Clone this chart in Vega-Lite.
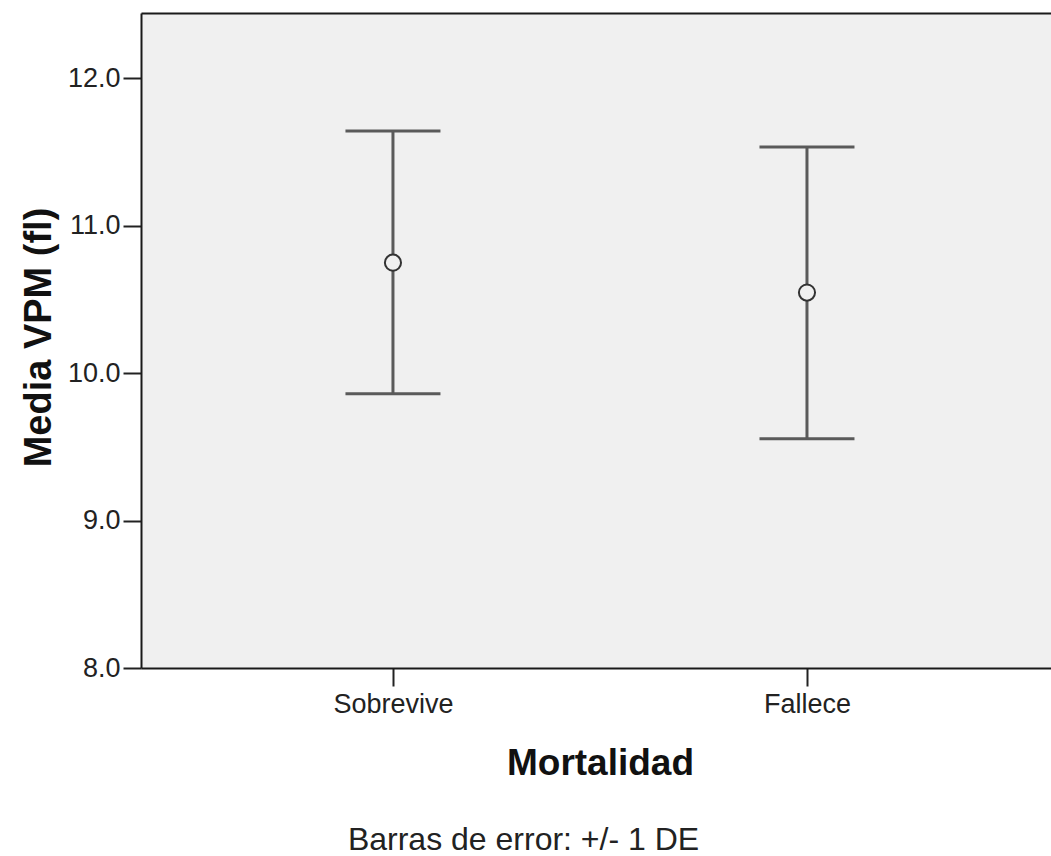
{
  "$schema": "https://vega.github.io/schema/vega-lite/v6.json",
  "autosize": "none",
  "width": 910,
  "height": 655,
  "padding": {"left": 141, "top": 13, "right": 0, "bottom": 188},
  "background": "white",
  "title": {
    "text": "Barras de error: +/- 1 DE",
    "orient": "bottom",
    "anchor": "middle",
    "frame": "bounds",
    "font": "Liberation Sans",
    "fontSize": 32,
    "fontWeight": "normal",
    "color": "#222222",
    "offset": 44,
    "dx": -12
  },
  "data": {
    "values": [
      {"grupo": "Sobrevive", "media": 10.748, "inferior": 9.860, "superior": 11.641},
      {"grupo": "Fallece", "media": 10.545, "inferior": 9.555, "superior": 11.532}
    ]
  },
  "layer": [
    {
      "mark": {"type": "rule", "color": "#5a5a5a", "strokeWidth": 3},
      "encoding": {
        "x": {
          "field": "grupo",
          "type": "nominal",
          "sort": ["Sobrevive", "Fallece"],
          "scale": {"type": "point", "padding": 0.599, "align": 0.508},
          "axis": {
            "orient": "bottom",
            "title": "Mortalidad",
            "labelAngle": 0,
            "labelFont": "Liberation Sans",
            "labelFontSize": 27,
            "labelColor": "#222222",
            "labelPadding": 5,
            "tickSize": 18,
            "tickWidth": 2,
            "tickColor": "#222222",
            "domainColor": "#1a1a1a",
            "domainWidth": 2,
            "grid": false,
            "titleFont": "Liberation Sans",
            "titleFontSize": 37,
            "titleFontWeight": "bold",
            "titleColor": "#111111",
            "titleBaseline": "alphabetic",
            "titleX": 459,
            "titleY": 106
          }
        },
        "y": {
          "field": "inferior",
          "type": "quantitative",
          "title": "Media VPM (fl)",
          "scale": {"domain": [8, 12.4407], "nice": false, "zero": false},
          "axis": {
            "orient": "left",
            "title": "Media VPM (fl)",
            "values": [8, 9, 10, 11, 12],
            "format": ".1f",
            "labelFont": "Liberation Sans",
            "labelFontSize": 27,
            "labelColor": "#222222",
            "labelPadding": 3,
            "tickSize": 18,
            "tickWidth": 2,
            "tickColor": "#222222",
            "domainColor": "#1a1a1a",
            "domainWidth": 2,
            "grid": false,
            "titleFont": "Liberation Sans",
            "titleFontSize": 38,
            "titleFontWeight": "bold",
            "titleColor": "#111111",
            "titleBaseline": "alphabetic",
            "titleAngle": 270,
            "titleX": -91,
            "titleY": 324
          }
        },
        "y2": {"field": "superior"}
      }
    },
    {
      "mark": {"type": "tick", "color": "#5a5a5a", "size": 95, "thickness": 3, "orient": "horizontal", "opacity": 1},
      "encoding": {
        "x": {
          "field": "grupo",
          "type": "nominal",
          "sort": ["Sobrevive", "Fallece"],
          "axis": {"orient": "top", "labels": false, "ticks": false, "title": null, "domainColor": "#1a1a1a", "domainWidth": 2, "grid": false}
        },
        "y": {"field": "superior", "type": "quantitative", "title": "Media VPM (fl)"}
      }
    },
    {
      "mark": {"type": "tick", "color": "#5a5a5a", "size": 95, "thickness": 3, "orient": "horizontal", "opacity": 1},
      "encoding": {
        "x": {"field": "grupo", "type": "nominal", "sort": ["Sobrevive", "Fallece"], "axis": null},
        "y": {"field": "inferior", "type": "quantitative", "title": "Media VPM (fl)"}
      }
    },
    {
      "mark": {"type": "point", "shape": "circle", "filled": false, "fill": "#f0f0f0", "fillOpacity": 1, "stroke": "#333333", "strokeWidth": 2, "size": 260, "opacity": 1},
      "encoding": {
        "x": {"field": "grupo", "type": "nominal", "sort": ["Sobrevive", "Fallece"], "axis": null},
        "y": {"field": "media", "type": "quantitative", "title": "Media VPM (fl)"}
      }
    }
  ],
  "config": {
    "view": {"fill": "#f0f0f0", "stroke": null}
  }
}
